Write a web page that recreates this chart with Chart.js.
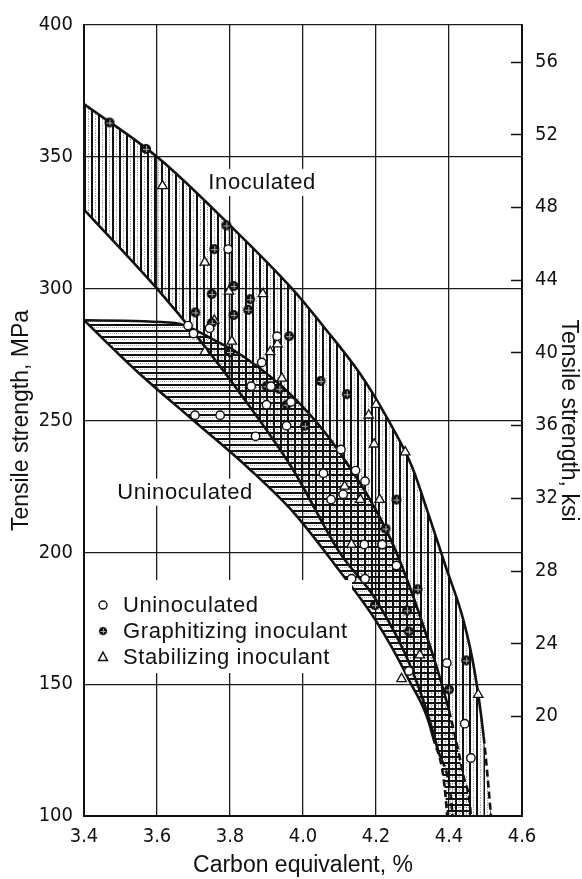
<!DOCTYPE html>
<html>
<head>
<meta charset="utf-8">
<title>Tensile strength vs carbon equivalent</title>
<script src="https://cdn.jsdelivr.net/npm/chart.js@4.4.1/dist/chart.umd.min.js"></script>
<style>
  html, body { margin: 0; padding: 0; background: #fff; }
</style>
</head>
<body>
<canvas id="tsChart" width="582" height="879"></canvas>
<script>
// Axis ticks
const ceTicks = [3.4, 3.6, 3.8, 4.0, 4.2, 4.4, 4.6];
const mpaTicks = [100, 150, 200, 250, 300, 350, 400];
const ksiTicks = [20, 24, 28, 32, 36, 40, 44, 48, 52, 56];
const MPA_PER_KSI = 6.895;

// Band boundaries (carbon equivalent %, MPa); last points run below the axis and get clipped
const inocUpperCE  = [3.40, 3.60, 3.80, 3.97, 4.06, 4.155, 4.226, 4.297, 4.34, 4.39, 4.44, 4.47, 4.495, 4.515, 4.56];
const inocUpperMPa = [370, 350, 324, 300, 285, 268, 252, 233, 216, 195, 174, 155, 130, 100, 20];
const inocLowerCE  = [3.40, 3.60, 3.72, 3.84, 3.97, 4.10, 4.20, 4.30, 4.37, 4.41, 4.56];
const inocLowerMPa = [330, 300, 280, 258, 232, 200, 182, 155, 125, 100, -300];
const uninocUpperCE  = [3.40, 3.65, 3.75, 3.84, 3.98, 4.10, 4.24, 4.33, 4.40, 4.44, 4.46, 4.56];
const uninocUpperMPa = [288, 287, 281, 274, 258, 238, 205, 172, 140, 115, 100, -200];
const uninocLowerCE  = [3.40, 3.55, 3.70, 3.85, 3.975, 4.10, 4.20, 4.285, 4.356, 4.395, 4.56];
const uninocLowerMPa = [288, 268, 250, 232, 215, 193, 174, 153, 130, 100, -400];

// Test results
const uninocCE  = [3.795, 3.685, 3.70, 3.744, 3.929, 3.887, 3.858, 3.912, 3.90, 3.955, 3.967, 3.704, 3.773, 3.87, 4.104, 4.144, 4.17, 4.056, 4.077, 4.11, 4.168, 4.217, 4.256, 4.133, 4.17, 4.29, 4.394, 4.443, 4.46];
const uninocMPa = [315, 286, 283, 285, 282, 272, 263, 263, 256, 248, 257, 252, 252, 244, 239, 231, 227, 230, 220, 222, 203, 203, 195, 190, 190, 155, 158, 135, 122];
const graphCE  = [3.47, 3.57, 3.79, 3.757, 3.75, 3.81, 3.855, 3.85, 3.705, 3.81, 3.75, 3.80, 3.962, 3.90, 3.935, 3.955, 4.005, 4.048, 4.12, 4.256, 4.226, 4.217, 4.197, 4.285, 4.29, 4.314, 4.447, 4.40];
const graphMPa = [363, 353, 324, 315, 298, 301, 296, 292, 291, 290, 287, 276, 282, 263, 262, 256, 248, 265, 260, 220, 209, 203, 180, 178, 170, 186, 159, 148];
const stabCE  = [3.615, 3.731, 3.797, 3.89, 3.757, 3.805, 3.731, 3.93, 3.91, 3.942, 4.20, 4.18, 4.195, 4.28, 4.114, 4.157, 4.21, 4.133, 4.32, 4.27, 4.48];
const stabMPa = [339, 310, 299, 298, 288, 280, 276, 279, 276, 266, 256, 252, 241, 238, 225, 220, 220, 203, 161, 152, 146];

const INK = '#111';
const tickFont = { family: "'Liberation Sans Narrow', 'DejaVu Sans Condensed', 'Liberation Sans', sans-serif", size: 20 };
const titleFont = { family: "'Liberation Sans', Arial, sans-serif", size: 23 };
const textFont = "22px 'Liberation Sans', Arial, sans-serif";

const canvas = document.getElementById('tsChart');
const ctx0 = canvas.getContext('2d');

const toXY = (xs, ys) => xs.map((x, i) => ({ x: x, y: ys[i] }));

// hatch fills: vertical for inoculated band, horizontal for uninoculated
function makeHatch(dir) {
    const c = document.createElement('canvas');
    const n = dir === 'v' ? 7 : 6;
    c.width = n; c.height = n;
    const g = c.getContext('2d');
    g.fillStyle = INK;
    if (dir === 'v') g.fillRect(0, 0, 2, n);
    else g.fillRect(0, 0, n, 2);
    g.fillStyle = 'rgba(0,0,0,0.35)';
    for (let k = 0; k < n; k += 2) {
        if (dir === 'v') g.fillRect(4, k, 1, 1);
        else g.fillRect(k, 3, 1, 1);
    }
    return ctx0.createPattern(c, 'repeat');
}

// dark dot with light cross for the graphitizing inoculant
function graphMarker() {
    const c = document.createElement('canvas');
    c.width = 12; c.height = 12;
    const g = c.getContext('2d');
    g.fillStyle = INK;
    g.beginPath(); g.arc(6, 6, 5, 0, Math.PI * 2); g.fill();
    g.strokeStyle = '#aaa'; g.lineWidth = 1;
    g.beginPath();
    g.moveTo(3, 6.5); g.lineTo(9, 6.5);
    g.moveTo(6.5, 3); g.lineTo(6.5, 9);
    g.stroke();
    return c;
}
const graphImg = graphMarker();

const bandLine = {
    type: 'line',
    pointRadius: 0,
    borderColor: INK,
    borderWidth: 2.6,
    tension: 0.35,
    cubicInterpolationMode: 'monotone',
    order: 1,
    segment: {
        // extrapolated ends are dashed
        borderDash: c => (c.p0.parsed.y < 145 ? [7, 4] : undefined)
    }
};

const pointSet = {
    type: 'scatter',
    order: 0,
    borderColor: INK,
    backgroundColor: '#fff',
    pointBorderWidth: 1.4
};

// annotation positions (carbon equivalent, MPa)
const bandLabels = [
    { text: 'Inoculated', ce: 3.888, mpa: 340.5 },
    { text: 'Uninoculated', ce: 3.677, mpa: 223 }
];

const overlay = {
    id: 'overlay',
    afterDatasetsDraw(chart) {
        const { ctx, scales: { x, y }, chartArea } = chart;
        ctx.save();
        ctx.font = textFont;
        ctx.letterSpacing = '0.6px';
        ctx.textBaseline = 'middle';

        bandLabels.forEach(l => {
            const px = x.getPixelForValue(l.ce);
            const py = y.getPixelForValue(l.mpa);
            const w = ctx.measureText(l.text).width;
            ctx.fillStyle = '#fff';
            ctx.fillRect(px - w / 2 - 3, py - 13, w + 6, 27);
            ctx.fillStyle = INK;
            ctx.textAlign = 'center';
            ctx.fillText(l.text, px, py + 1);
        });

        // legend box inside the plot
        const sets = chart.data.datasets.filter(d => d.type === 'scatter');
        const lx = chartArea.left + 19;
        const ly0 = y.getPixelForValue(180);
        ctx.fillStyle = '#fff';
        ctx.fillRect(chartArea.left + 6, ly0 - 25, 262, 93);
        ctx.textAlign = 'left';
        sets.forEach((d, i) => {
            const py = ly0 + i * 26;
            ctx.lineWidth = 1.4;
            ctx.strokeStyle = INK;
            ctx.fillStyle = '#fff';
            if (d.pointStyle === 'circle') {
                ctx.beginPath(); ctx.arc(lx, py, 4, 0, Math.PI * 2); ctx.fill(); ctx.stroke();
            } else if (d.pointStyle === 'triangle') {
                ctx.beginPath();
                ctx.moveTo(lx, py - 5); ctx.lineTo(lx + 4.5, py + 3.5); ctx.lineTo(lx - 4.5, py + 3.5);
                ctx.closePath(); ctx.fill(); ctx.stroke();
            } else {
                ctx.drawImage(d.pointStyle, lx - 5, py - 5, 10, 10);
            }
            ctx.fillStyle = INK;
            ctx.fillText(d.label, lx + 20, py + 1);
        });
        ctx.restore();
    },
    afterDraw(chart) {
        // short inward ticks on the ksi axis
        const { ctx } = chart;
        const y2 = chart.scales.y2;
        ctx.save();
        ctx.strokeStyle = INK;
        ctx.lineWidth = 1.6;
        ctx.beginPath();
        ksiTicks.forEach(v => {
            const py = Math.round(y2.getPixelForValue(v)) + 0.5;
            ctx.moveTo(y2.left - 11, py);
            ctx.lineTo(y2.left, py);
        });
        ctx.stroke();
        ctx.restore();
    }
};

const chart = new Chart(ctx0, {
    type: 'line',
    data: {
        datasets: [
            Object.assign({}, bandLine, { label: 'Inoculated, upper', data: toXY(inocUpperCE, inocUpperMPa), fill: 1, backgroundColor: makeHatch('v') }),
            Object.assign({}, bandLine, { label: 'Inoculated, lower', data: toXY(inocLowerCE, inocLowerMPa), fill: false }),
            Object.assign({}, bandLine, { label: 'Uninoculated, upper', data: toXY(uninocUpperCE, uninocUpperMPa), fill: 3, backgroundColor: makeHatch('h') }),
            Object.assign({}, bandLine, { label: 'Uninoculated, lower', data: toXY(uninocLowerCE, uninocLowerMPa), fill: false }),
            Object.assign({}, pointSet, { label: 'Uninoculated', data: toXY(uninocCE, uninocMPa), pointStyle: 'circle', pointRadius: 4.2 }),
            Object.assign({}, pointSet, { label: 'Graphitizing inoculant', data: toXY(graphCE, graphMPa), pointStyle: graphImg, pointRadius: 5 }),
            Object.assign({}, pointSet, { label: 'Stabilizing inoculant', data: toXY(stabCE, stabMPa), pointStyle: 'triangle', pointRadius: 5.5, pointBorderWidth: 1.3 })
        ]
    },
    options: {
        responsive: false,
        animation: false,
        layout: { padding: { top: 20 } },
        plugins: {
            legend: { display: false },
            tooltip: { enabled: false }
        },
        scales: {
            x: {
                type: 'linear',
                min: ceTicks[0],
                max: ceTicks[ceTicks.length - 1],
                afterBuildTicks: s => { s.ticks = ceTicks.map(v => ({ value: v })); },
                afterFit: s => { s.height = 63; },
                ticks: { font: tickFont, color: INK, padding: 9, callback: v => v.toFixed(1) },
                grid: { color: '#1c1c1c', lineWidth: 1.3, drawTicks: false },
                border: { color: INK, width: 2 },
                title: { display: true, text: 'Carbon equivalent, %', font: titleFont, color: INK, padding: { top: 0, bottom: 0 } }
            },
            y: {
                type: 'linear',
                min: mpaTicks[0],
                max: mpaTicks[mpaTicks.length - 1],
                afterBuildTicks: s => { s.ticks = mpaTicks.map(v => ({ value: v })); },
                afterFit: s => { s.width = 84; },
                ticks: { font: tickFont, color: INK, padding: 11 },
                grid: { color: '#1c1c1c', lineWidth: 1.3, drawTicks: false },
                border: { color: INK, width: 2 },
                title: { display: true, text: 'Tensile strength, MPa', font: titleFont, color: INK, padding: { top: 8, bottom: 0 } }
            },
            y2: {
                type: 'linear',
                position: 'right',
                min: mpaTicks[0] / MPA_PER_KSI,
                max: mpaTicks[mpaTicks.length - 1] / MPA_PER_KSI,
                afterBuildTicks: s => { s.ticks = ksiTicks.map(v => ({ value: v })); },
                afterFit: s => { s.width = 60; },
                ticks: { font: tickFont, color: INK, padding: 13 },
                grid: { drawOnChartArea: false, drawTicks: false },
                border: { color: INK, width: 2 },
                title: { display: true, text: 'Tensile strength, ksi', font: titleFont, color: INK, padding: { top: 0, bottom: 0 } }
            }
        }
    },
    plugins: [overlay]
});
</script>
</body>
</html>
